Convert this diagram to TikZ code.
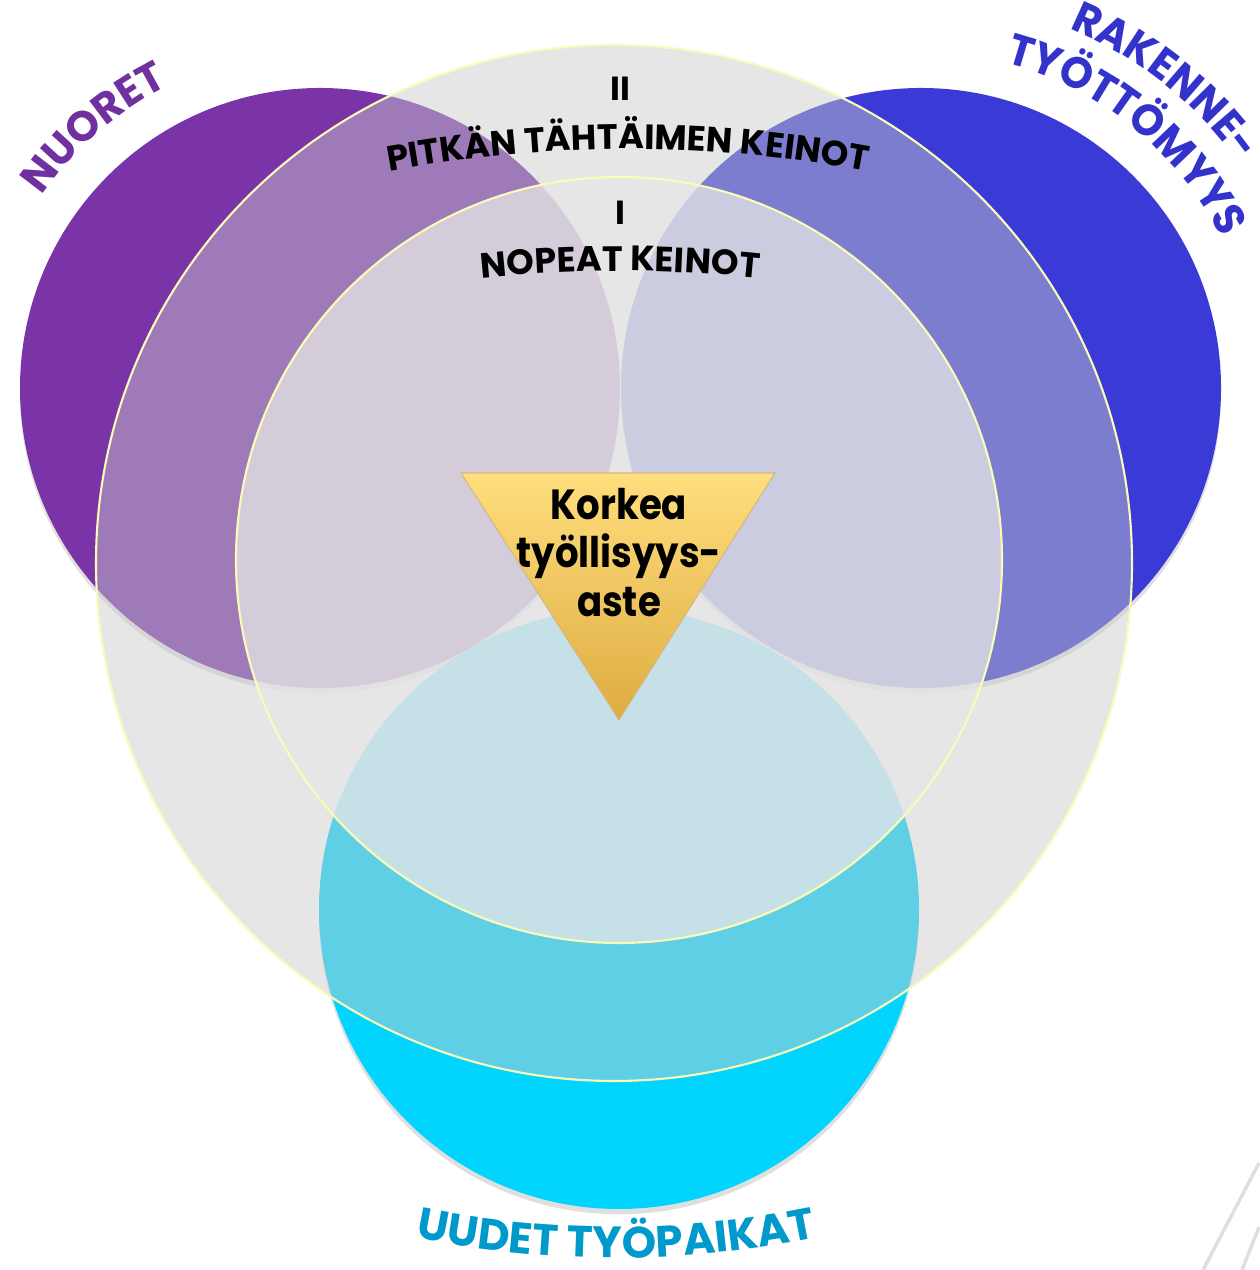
\documentclass[tikz,border=0pt]{standalone}
\usepackage{fontspec}
\setmainfont{Poppins}
\newfontfamily\narrowfont[FakeStretch=0.88]{Poppins}
\newfontfamily\labelfont[FakeStretch=0.95]{Poppins}
\usetikzlibrary{decorations.text,shadows}
\definecolor{nuoretfill}{RGB}{122,52,168}
\definecolor{nuoretlabel}{RGB}{112,48,160}
\definecolor{rakennefill}{RGB}{58,58,214}
\definecolor{rakennelabel}{RGB}{51,51,204}
\definecolor{uudetfill}{RGB}{0,212,255}
\definecolor{uudetlabel}{RGB}{0,153,204}
\definecolor{outerfill}{RGB}{202,202,202}
\definecolor{innerfill}{RGB}{230,230,230}
\definecolor{ringline}{RGB}{250,250,185}
\definecolor{goldtop}{RGB}{255,222,125}
\definecolor{goldbottom}{RGB}{222,172,66}
\tikzset{
	group/.style={drop shadow={shadow xshift=0pt, shadow yshift=-3pt, opacity=0.25}},
	ring/.style={draw=ringline, line width=1.2pt},
	curvetext/.style={decorate, decoration={text along path, text align=center, text={#1}}}
}
\begin{document}
\begin{tikzpicture}[x=0.02cm, y=0.02cm]
\def\nuoretcircle{(320,882) circle (300)}
\def\rakennecircle{(921,882) circle (300)}
\def\uudetcircle{(619,361) circle (300)}
\def\outercircle{(614,707) circle (518)}
\def\innercircle{(619,710) circle (383)}
\def\nuoretfont{\fontsize{24}{28}\selectfont\bfseries\color{nuoretlabel}}
\def\rakennefont{\labelfont\fontsize{25}{30}\selectfont\bfseries\color{rakennelabel}}
\def\uudetfont{\fontsize{25}{30}\selectfont\bfseries\color{uudetlabel}}
\def\keinofont{\fontsize{20}{24}\selectfont\bfseries}

\useasboundingbox (0,0) rectangle (1259,1270);

\fill[nuoretfill, group] \nuoretcircle;
\fill[rakennefill, group] \rakennecircle;
\fill[uudetfill, group] \uudetcircle;
\fill[outerfill, fill opacity=0.47] \outercircle;
\draw[ring] \outercircle;
\fill[innerfill, fill opacity=0.76] \innercircle;
\draw[ring] \innercircle;

\path[curvetext={|\nuoretfont|NUORET}] (320,882) ++(176:338) arc[start angle=176, end angle=86, radius=338];
\path[curvetext={|\rakennefont|RAKENNE-}] (921,882) ++(97:389) arc[start angle=97, end angle=6, radius=389];
\path[curvetext={|\rakennefont|TYÖTTÖMYYS}] (921,882) ++(96:336) arc[start angle=96, end angle=6, radius=336];
\path[curvetext={|\uudetfont|UUDET TYÖPAIKAT}] (616,1012) ++(245:1000) arc[start angle=245, end angle=295, radius=1000];
\path[curvetext={|\keinofont|PITKÄN TÄHTÄIMEN KEINOT}] (628,-179) ++(110:1300) arc[start angle=110, end angle=70, radius=1300];
\path[curvetext={|\keinofont|NOPEAT KEINOT}] (620,-351) ++(105:1350) arc[start angle=105, end angle=75, radius=1350];

\node[font=\fontsize{19}{22}\selectfont\bfseries] (kaksi) at (620,1181) {II};
\node[font=\fontsize{19}{22}\selectfont\bfseries] (yksi) at (620,1057) {I};

\shade[top color=goldtop, bottom color=goldbottom, draw=goldbottom!80!black!60, line width=0.6pt]
	(461,797) -- (775,797) -- (619,550) -- cycle;
\node[anchor=north, inner sep=0pt, align=center, font=\narrowfont\fontsize{24}{27.5}\selectfont\bfseries] (korkea) at (619,782)
	{Korkea\\työllisyys-\\aste};

\draw[gray!25, line width=2pt] (1259,107) -- (1203,0);
\draw[gray!25, line width=2pt] (1259,43) -- (1242,0);
\end{tikzpicture}
\end{document}
